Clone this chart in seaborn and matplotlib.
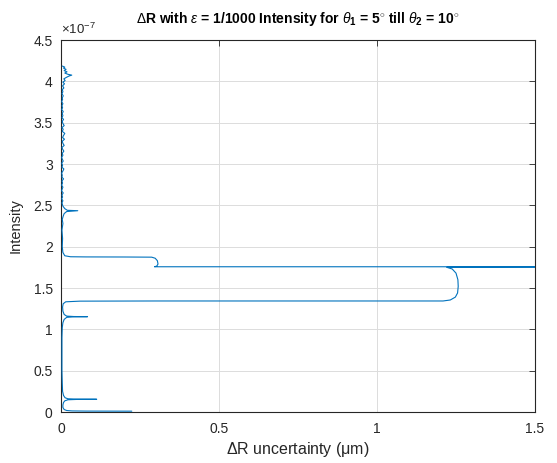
import matplotlib
matplotlib.use("Agg")
import matplotlib.pyplot as plt
from matplotlib.ticker import FuncFormatter
import numpy as np
import pandas as pd
import seaborn as sns

# Path of the curve, ordered from the lowest intensity to the highest.
# uncertainty in micrometres, intensity in units of 1e-7
uncertainty_um = [
    0.224, 0.150, 0.080, 0.035, 0.018, 0.010, 0.006, 0.006, 0.008, 0.012,
    0.022, 0.050, 0.113, 0.050, 0.022, 0.013, 0.008, 0.005, 0.004, 0.003,
    0.003, 0.003, 0.004, 0.006, 0.010, 0.018, 0.040, 0.084, 0.040, 0.018,
    0.010, 0.006, 0.005, 0.007, 0.015, 0.060, 0.300, 0.700, 1.000, 1.209,
    1.232, 1.248, 1.255, 1.257, 1.256, 1.250, 1.238, 1.221, 1.300, 1.450,
    1.800, 1.800, 1.450, 1.000, 0.600, 0.296, 0.303, 0.307, 0.305, 0.298,
    0.287, 0.200, 0.080, 0.030, 0.012, 0.006, 0.004, 0.005, 0.003, 0.006,
    0.004, 0.007, 0.010, 0.018, 0.053, 0.020, 0.012, 0.006,
]
intensity_e7 = [
    0.010, 0.010, 0.011, 0.013, 0.018, 0.030, 0.055, 0.085, 0.115, 0.135,
    0.148, 0.152, 0.154, 0.156, 0.160, 0.172, 0.200, 0.250, 0.350, 0.500,
    0.700, 0.900, 1.020, 1.080, 1.120, 1.145, 1.151, 1.153, 1.155, 1.160,
    1.180, 1.220, 1.270, 1.310, 1.333, 1.341, 1.343, 1.343, 1.343, 1.343,
    1.355, 1.390, 1.440, 1.520, 1.600, 1.680, 1.730, 1.750, 1.752, 1.753,
    1.754, 1.757, 1.757, 1.757, 1.757, 1.757, 1.765, 1.790, 1.830, 1.860,
    1.873, 1.875, 1.876, 1.878, 1.890, 1.930, 2.000, 2.100, 2.200, 2.280,
    2.330, 2.370, 2.400, 2.425, 2.435, 2.440, 2.460, 2.490,
]

# Jittery upper stretch of the curve (same units)
upper_uncertainty_um = [
    0.003, 0.006, 0.002, 0.005, 0.003, 0.007, 0.002, 0.004, 0.006, 0.002,
    0.005, 0.003, 0.008, 0.003, 0.004, 0.002, 0.006, 0.009, 0.003, 0.005,
    0.002, 0.007, 0.004, 0.002, 0.006, 0.004, 0.009, 0.005, 0.003, 0.010,
    0.006, 0.004, 0.011, 0.005, 0.008, 0.012, 0.004, 0.007, 0.003, 0.010,
    0.006, 0.004, 0.008, 0.003, 0.006, 0.004, 0.007, 0.002, 0.005, 0.003,
    0.006, 0.002, 0.005, 0.004, 0.007, 0.003, 0.006, 0.004, 0.009, 0.005,
    0.011, 0.006, 0.013, 0.009, 0.018, 0.026, 0.034, 0.022, 0.012, 0.019,
    0.010, 0.016, 0.008, 0.012, 0.004,
]
upper_intensity_e7 = [
    2.530, 2.555, 2.580, 2.600, 2.625, 2.650, 2.675, 2.700, 2.720, 2.745,
    2.770, 2.795, 2.820, 2.840, 2.865, 2.890, 2.915, 2.940, 2.960, 2.985,
    3.010, 3.035, 3.060, 3.080, 3.105, 3.130, 3.155, 3.180, 3.200, 3.225,
    3.250, 3.275, 3.300, 3.320, 3.345, 3.370, 3.395, 3.420, 3.440, 3.465,
    3.490, 3.515, 3.540, 3.560, 3.585, 3.610, 3.635, 3.660, 3.680, 3.705,
    3.730, 3.755, 3.780, 3.800, 3.825, 3.850, 3.875, 3.900, 3.920, 3.945,
    3.970, 3.990, 4.010, 4.030, 4.050, 4.065, 4.075, 4.085, 4.100, 4.115,
    4.130, 4.145, 4.160, 4.172, 4.185,
]

x_ticks = [0, 0.5, 1, 1.5]
y_ticks_e7 = [0, 0.5, 1, 1.5, 2, 2.5, 3, 3.5, 4, 4.5]

df = pd.DataFrame({
    "uncertainty": uncertainty_um + upper_uncertainty_um,
    "intensity": np.array(intensity_e7 + upper_intensity_e7) * 1e-7,
})

sns.set_style("white")
plt.rcParams["font.family"] = ["Liberation Sans", "DejaVu Sans"]
plt.rcParams["mathtext.fontset"] = "custom"
plt.rcParams["mathtext.rm"] = "Liberation Sans"
plt.rcParams["mathtext.it"] = "Liberation Sans:italic"
plt.rcParams["mathtext.bf"] = "Liberation Sans:bold"

dark = "#262626"
fig = plt.figure(figsize=(5.57, 4.63), dpi=100)
ax = fig.add_axes([61 / 557, 1 - 412 / 463, (535 - 61) / 557, (412 - 40) / 463])

sns.lineplot(data=df, x="uncertainty", y="intensity", sort=False,
             estimator=None, color="#0072BD", linewidth=0.8, ax=ax, zorder=3)

ax.set_xlim(0, 1.5)
ax.set_ylim(0, 4.5e-7)
ax.set_xticks(x_ticks)
ax.set_yticks(np.array(y_ticks_e7) * 1e-7)
ax.xaxis.set_major_formatter(FuncFormatter(lambda v, p: f"{v:g}"))
ax.yaxis.set_major_formatter(FuncFormatter(lambda v, p: f"{round(v * 1e7, 3):g}"))

ax.grid(True, color="#dcdcdc", linewidth=0.7)
ax.set_axisbelow(True)
for s in ax.spines.values():
    s.set_color(dark)
    s.set_linewidth(0.8)
    s.set_zorder(2)
ax.tick_params(direction="in", length=4, width=0.6, colors=dark,
               labelsize=10, top=True, right=True)
ax.tick_params(axis="x", pad=7)
ax.tick_params(axis="y", pad=6)

ax.set_xlabel(r"$\Delta$R uncertainty (μm)", fontsize=11.5, color=dark, labelpad=3)
ax.set_ylabel("Intensity", fontsize=10.5, color=dark, labelpad=8)
ax.set_title(r"$\Delta$R with $\epsilon$ = 1/1000 Intensity for $\theta_\mathbf{1}$ = 5$^{\circ}$ till $\theta_\mathbf{2}$ = 10$^{\circ}$",
             fontsize=10, fontweight="bold", color="black", pad=12)
ax.text(0.0, 1.008, r"$\times$10$^{-7}$", transform=ax.transAxes,
        fontsize=9.5, color=dark, ha="left", va="bottom")

fig.savefig("out.png", dpi=100, facecolor="white")
